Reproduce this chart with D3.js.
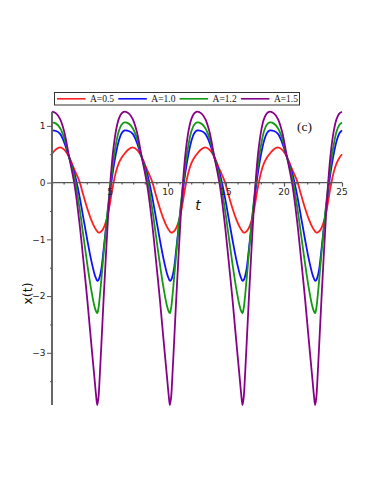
<!DOCTYPE html>
<html>
  <head>
    <meta charset="utf-8" />
    <script src="https://d3js.org/d3.v7.min.js"></script>
    <title>x(t)</title>
    <style>
      body { margin: 0; background: #ffffff; }
      svg { display: block; }
    </style>
  </head>
  <body>
    <svg id="chart" width="374" height="484"></svg>

    <script>
      // time samples (one row per oscillation)
      var tValues = [
        0, 0.35, 0.7, 1.05, 1.45, 1.95, 2.35, 2.7, 3.05, 3.35, 3.65, 3.8, 3.9, 4.0, 4.1, 4.25, 4.45, 4.65, 4.85, 5.05, 5.25, 5.5, 5.75, 6.0,
        6.26, 6.61, 6.96, 7.31, 7.71, 8.21, 8.61, 8.96, 9.31, 9.61, 9.91, 10.06, 10.16, 10.26, 10.36, 10.51, 10.71, 10.91, 11.11, 11.31, 11.51, 11.76, 12.01, 12.26,
        12.52, 12.87, 13.22, 13.57, 13.97, 14.47, 14.87, 15.22, 15.57, 15.87, 16.17, 16.32, 16.42, 16.52, 16.62, 16.77, 16.97, 17.17, 17.37, 17.57, 17.77, 18.02, 18.27, 18.52,
        18.78, 19.13, 19.48, 19.83, 20.23, 20.73, 21.13, 21.48, 21.83, 22.13, 22.43, 22.58, 22.68, 22.78, 22.88, 23.03, 23.23, 23.43, 23.63, 23.83, 24.03, 24.28, 24.53, 24.78,
        25
      ];

      var xA05 = [
        0.51, 0.59, 0.62, 0.58, 0.46, 0.22, 0.03, -0.22, -0.46, -0.64, -0.78, -0.83, -0.86, -0.88, -0.88, -0.86, -0.80, -0.69, -0.53, -0.30, -0.06, 0.18, 0.34, 0.44,
        0.51, 0.59, 0.62, 0.58, 0.46, 0.22, 0.03, -0.22, -0.46, -0.64, -0.78, -0.83, -0.86, -0.88, -0.88, -0.86, -0.80, -0.69, -0.53, -0.30, -0.06, 0.18, 0.34, 0.44,
        0.51, 0.59, 0.62, 0.58, 0.46, 0.22, 0.03, -0.22, -0.46, -0.64, -0.78, -0.83, -0.86, -0.88, -0.88, -0.86, -0.80, -0.69, -0.53, -0.30, -0.06, 0.18, 0.34, 0.44,
        0.51, 0.59, 0.62, 0.58, 0.46, 0.22, 0.03, -0.22, -0.46, -0.64, -0.78, -0.83, -0.86, -0.88, -0.88, -0.86, -0.80, -0.69, -0.53, -0.30, -0.06, 0.18, 0.34, 0.44,
        0.50
      ];

      var xA10 = [
        0.92, 0.91, 0.86, 0.71, 0.46, 0.15, -0.22, -0.62, -1.02, -1.34, -1.60, -1.69, -1.73, -1.72, -1.67, -1.53, -1.18, -0.80, -0.43, -0.10, 0.20, 0.50, 0.73, 0.87,
        0.92, 0.91, 0.86, 0.71, 0.46, 0.15, -0.22, -0.62, -1.02, -1.34, -1.60, -1.69, -1.73, -1.72, -1.67, -1.53, -1.18, -0.80, -0.43, -0.10, 0.20, 0.50, 0.73, 0.87,
        0.92, 0.91, 0.86, 0.71, 0.46, 0.15, -0.22, -0.62, -1.02, -1.34, -1.60, -1.69, -1.73, -1.72, -1.67, -1.53, -1.18, -0.80, -0.43, -0.10, 0.20, 0.50, 0.73, 0.87,
        0.92, 0.91, 0.86, 0.71, 0.46, 0.15, -0.22, -0.62, -1.02, -1.34, -1.60, -1.69, -1.73, -1.72, -1.67, -1.53, -1.18, -0.80, -0.43, -0.10, 0.20, 0.50, 0.73, 0.87,
        0.92
      ];

      var xA12 = [
        1.06, 1.04, 0.96, 0.79, 0.47, 0.07, -0.42, -0.93, -1.45, -1.85, -2.17, -2.27, -2.30, -2.22, -2.05, -1.72, -1.25, -0.80, -0.38, -0.02, 0.32, 0.66, 0.90, 1.02,
        1.06, 1.04, 0.96, 0.79, 0.47, 0.07, -0.42, -0.93, -1.45, -1.85, -2.17, -2.27, -2.30, -2.22, -2.05, -1.72, -1.25, -0.80, -0.38, -0.02, 0.32, 0.66, 0.90, 1.02,
        1.06, 1.04, 0.96, 0.79, 0.47, 0.07, -0.42, -0.93, -1.45, -1.85, -2.17, -2.27, -2.30, -2.22, -2.05, -1.72, -1.25, -0.80, -0.38, -0.02, 0.32, 0.66, 0.90, 1.02,
        1.06, 1.04, 0.96, 0.79, 0.47, 0.07, -0.42, -0.93, -1.45, -1.85, -2.17, -2.27, -2.30, -2.22, -2.05, -1.72, -1.25, -0.80, -0.38, -0.02, 0.32, 0.66, 0.90, 1.02,
        1.06
      ];

      var xA15 = [
        1.25, 1.22, 1.12, 0.90, 0.48, -0.05, -0.68, -1.36, -2.08, -2.76, -3.42, -3.75, -3.92, -3.80, -3.48, -2.88, -2.05, -1.28, -0.55, 0.06, 0.52, 0.90, 1.12, 1.22,
        1.25, 1.22, 1.12, 0.90, 0.48, -0.05, -0.68, -1.36, -2.08, -2.76, -3.42, -3.75, -3.92, -3.80, -3.48, -2.88, -2.05, -1.28, -0.55, 0.06, 0.52, 0.90, 1.12, 1.22,
        1.25, 1.22, 1.12, 0.90, 0.48, -0.05, -0.68, -1.36, -2.08, -2.76, -3.42, -3.75, -3.92, -3.80, -3.48, -2.88, -2.05, -1.28, -0.55, 0.06, 0.52, 0.90, 1.12, 1.22,
        1.25, 1.22, 1.12, 0.90, 0.48, -0.05, -0.68, -1.36, -2.08, -2.76, -3.42, -3.75, -3.92, -3.80, -3.48, -2.88, -2.05, -1.28, -0.55, 0.06, 0.52, 0.90, 1.12, 1.22,
        1.25
      ];

      var seriesNames = ["A=0.5", "A=1.0", "A=1.2", "A=1.5"];
      var seriesValues = [xA05, xA10, xA12, xA15];
      var colors = ["#ff1f1f", "#1010ff", "#119911", "#880088"];

      var xTicks = [5, 10, 15, 20, 25];
      var yTicks = [1, 0, -1, -2, -3];

      var svg = d3.select("#chart");

      var xScale = d3.scaleLinear().domain([0, 25]).range([52, 342]);
      var yScale = d3.scaleLinear().domain([-3.92, 1.25]).range([405, 111.7]);

      var line = d3
        .line()
        .x(function (d) { return xScale(d[0]); })
        .y(function (d) { return yScale(d[1]); })
        .curve(d3.curveCatmullRom.alpha(0.5));

      // curves
      seriesValues.forEach(function (vals, i) {
        var pts = tValues.map(function (t, j) { return [t, vals[j]]; });
        svg
          .append("path")
          .datum(pts)
          .attr("d", line)
          .style("fill", "none")
          .style("stroke", colors[i])
          .style("stroke-width", "1.8px");
      });

      // horizontal axis through x = 0
      var xAxis = d3
        .axisBottom(xScale)
        .tickValues(d3.range(0, 26, 1))
        .tickSize(2)
        .tickFormat("");
      svg
        .append("g")
        .attr("transform", "translate(0," + yScale(0) + ")")
        .call(xAxis)
        .call(function (g) {
          g.select(".domain").attr("d", "M" + xScale(0) + ",0H" + xScale(25));
          g.selectAll("line,path").style("stroke", "#555").style("stroke-width", "1.2px");
          g.selectAll(".tick")
            .filter(function (d) { return d % 5 === 0; })
            .select("line")
            .attr("y2", 4);
        });

      svg
        .append("g")
        .selectAll("text")
        .data(xTicks)
        .enter()
        .append("text")
        .attr("x", function (d) { return xScale(d); })
        .attr("y", yScale(0) + 12)
        .attr("text-anchor", "middle")
        .style("font-family", "DejaVu Sans")
        .style("font-size", "9px")
        .style("fill", "#222")
        .text(function (d) { return d; });

      // vertical axis
      var yAxis = d3
        .axisLeft(yScale)
        .tickValues([1, 0.5, 0, -0.5, -1, -1.5, -2, -2.5, -3, -3.5])
        .tickSize(2)
        .tickFormat("");
      svg
        .append("g")
        .attr("transform", "translate(" + xScale(0) + ",0)")
        .call(yAxis)
        .call(function (g) {
          g.select(".domain").attr("d", "M0," + yScale(1.25) + "V" + yScale(-3.92));
          g.select(".domain").style("stroke", "#666").style("stroke-width", "2px");
          g.selectAll(".tick line").style("stroke", "#555").style("stroke-width", "1px");
          g.selectAll(".tick")
            .filter(function (d) { return Number.isInteger(d); })
            .select("line")
            .attr("x2", -5);
        });

      svg
        .append("g")
        .selectAll("text")
        .data(yTicks)
        .enter()
        .append("text")
        .attr("x", 45.5)
        .attr("y", function (d) { return yScale(d) + 3.2; })
        .attr("text-anchor", "end")
        .style("font-family", "DejaVu Sans")
        .style("font-size", "9px")
        .style("fill", "#222")
        .text(function (d) { return d < 0 ? "\u2212" + Math.abs(d) : d; });

      // axis titles
      svg
        .append("text")
        .attr("x", 198)
        .attr("y", 210)
        .attr("text-anchor", "middle")
        .style("font-family", "DejaVu Sans")
        .style("font-style", "italic")
        .style("font-size", "14px")
        .style("fill", "#111")
        .text("t");

      svg
        .append("text")
        .attr("transform", "translate(31.5,293.5) rotate(-90)")
        .attr("text-anchor", "middle")
        .style("font-family", "DejaVu Sans")
        .style("font-size", "12.5px")
        .style("fill", "#111")
        .text("x(t)");

      svg
        .append("text")
        .attr("x", 297)
        .attr("y", 131)
        .style("font-family", "Liberation Serif")
        .style("font-size", "13.5px")
        .style("fill", "#111")
        .text("(c)");

      // legend
      var legend = svg.append("g");
      legend
        .append("rect")
        .attr("x", 54.5)
        .attr("y", 92.5)
        .attr("width", 245)
        .attr("height", 12.5)
        .style("fill", "#fff")
        .style("stroke", "#333")
        .style("stroke-width", "1px");

      var entry = legend
        .selectAll("g.entry")
        .data(seriesNames)
        .enter()
        .append("g")
        .attr("class", "entry")
        .attr("transform", function (d, i) { return "translate(" + (57 + i * 61.3) + ",98.8)"; });

      entry
        .append("line")
        .attr("x1", 0)
        .attr("x2", 28.5)
        .style("stroke", function (d, i) { return colors[i]; })
        .style("stroke-width", "1.6px");

      entry
        .append("text")
        .attr("x", 33)
        .attr("y", 3.3)
        .style("font-family", "Liberation Serif")
        .style("font-size", "9.5px")
        .style("fill", "#111")
        .text(function (d) { return d; });
    </script>
  </body>
</html>
